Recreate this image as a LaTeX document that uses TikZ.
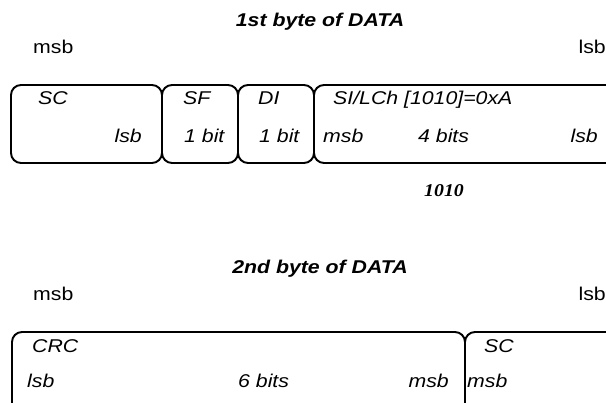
\documentclass[tikz,border=0pt]{standalone}
\usepackage{fontspec}
\setmainfont[FakeStretch=1.15]{Liberation Sans}
\newfontfamily\serifbits[FakeStretch=1.1]{Liberation Serif}
\usetikzlibrary{positioning}

\begin{document}
\begin{tikzpicture}[x=1pt, y=-1pt,
  field/.style={rectangle, draw, line width=1.9pt, rounded corners=10pt, inner sep=0pt, outer sep=0pt, minimum height=78pt},
  lbl/.style={inner sep=0pt, font=\fontsize{18.5}{22}\selectfont\itshape},
  plain/.style={inner sep=0pt, font=\fontsize{18.5}{22}\selectfont},
  head/.style={inner sep=0pt, font=\fontsize{18.5}{22}\selectfont\bfseries\itshape}
]
\useasboundingbox (0,0) rectangle (606,403);
\clip (0,0) rectangle (606,403);

% 1st byte
\node[head, anchor=base] (head1) at (320,27) {1st byte of DATA};
\node[plain, anchor=base west] (msb1) at (33,54) {msb};
\node[plain, anchor=base east] (lsb1) at (606,54) {lsb};

\node[field, minimum width=151pt] (sc) at (86.5,124) {};
\node[field, minimum width=76pt, right=0pt of sc] (sf) {};
\node[field, minimum width=76pt, right=0pt of sf] (di) {};
\node[field, minimum width=330pt, right=0pt of di] (si) {};

\node[lbl, anchor=base west] (sc-name) at ([xshift=27pt, yshift=-20pt]sc.north west) {SC};
\node[lbl, anchor=base east] (sc-lsb) at ([xshift=-20pt, yshift=-58pt]sc.north east) {lsb};
\node[lbl, anchor=base west] (sf-name) at ([xshift=21pt, yshift=-20pt]sf.north west) {SF};
\node[lbl, anchor=base west] (sf-len) at ([xshift=22pt, yshift=-58pt]sf.north west) {1 bit};
\node[lbl, anchor=base west] (di-name) at ([xshift=20pt, yshift=-20pt]di.north west) {DI};
\node[lbl, anchor=base west] (di-len) at ([xshift=21pt, yshift=-58pt]di.north west) {1 bit};
\node[lbl, anchor=base west] (si-name) at ([xshift=19pt, yshift=-20pt]si.north west) {SI/LCh [1010]=0xA};
\node[lbl, anchor=base west] (si-msb) at ([xshift=9pt, yshift=-58pt]si.north west) {msb};
\node[lbl, anchor=base west] (si-len) at ([xshift=104pt, yshift=-58pt]si.north west) {4 bits};
\node[lbl, anchor=base east] (si-lsb) at (598,143) {lsb};

\node[inner sep=0pt, anchor=base west, font=\serifbits\fontsize{18}{21}\selectfont\bfseries\itshape] (bits) at (424,197) {1010};

% 2nd byte
\node[head, anchor=base] (head2) at (320,274) {2nd byte of DATA};
\node[plain, anchor=base west] (msb2) at (33,301) {msb};
\node[plain, anchor=base east] (lsb2) at (606,301) {lsb};

\node[field, minimum width=453pt, minimum height=100pt] (crc) at (238.5,382) {};
\node[field, minimum width=340pt, minimum height=100pt, right=0pt of crc] (sc2) {};

\node[lbl, anchor=base west] (crc-name) at ([xshift=20pt, yshift=-21pt]crc.north west) {CRC};
\node[lbl, anchor=base west] (crc-lsb) at ([xshift=15pt, yshift=-56pt]crc.north west) {lsb};
\node[lbl, anchor=base west] (crc-len) at ([xshift=226pt, yshift=-56pt]crc.north west) {6 bits};
\node[lbl, anchor=base east] (crc-msb) at ([xshift=-16pt, yshift=-56pt]crc.north east) {msb};
\node[lbl, anchor=base west] (sc2-name) at ([xshift=19pt, yshift=-21pt]sc2.north west) {SC};
\node[lbl, anchor=base west] (sc2-msb) at ([xshift=2pt, yshift=-56pt]sc2.north west) {msb};
\end{tikzpicture}
\end{document}
